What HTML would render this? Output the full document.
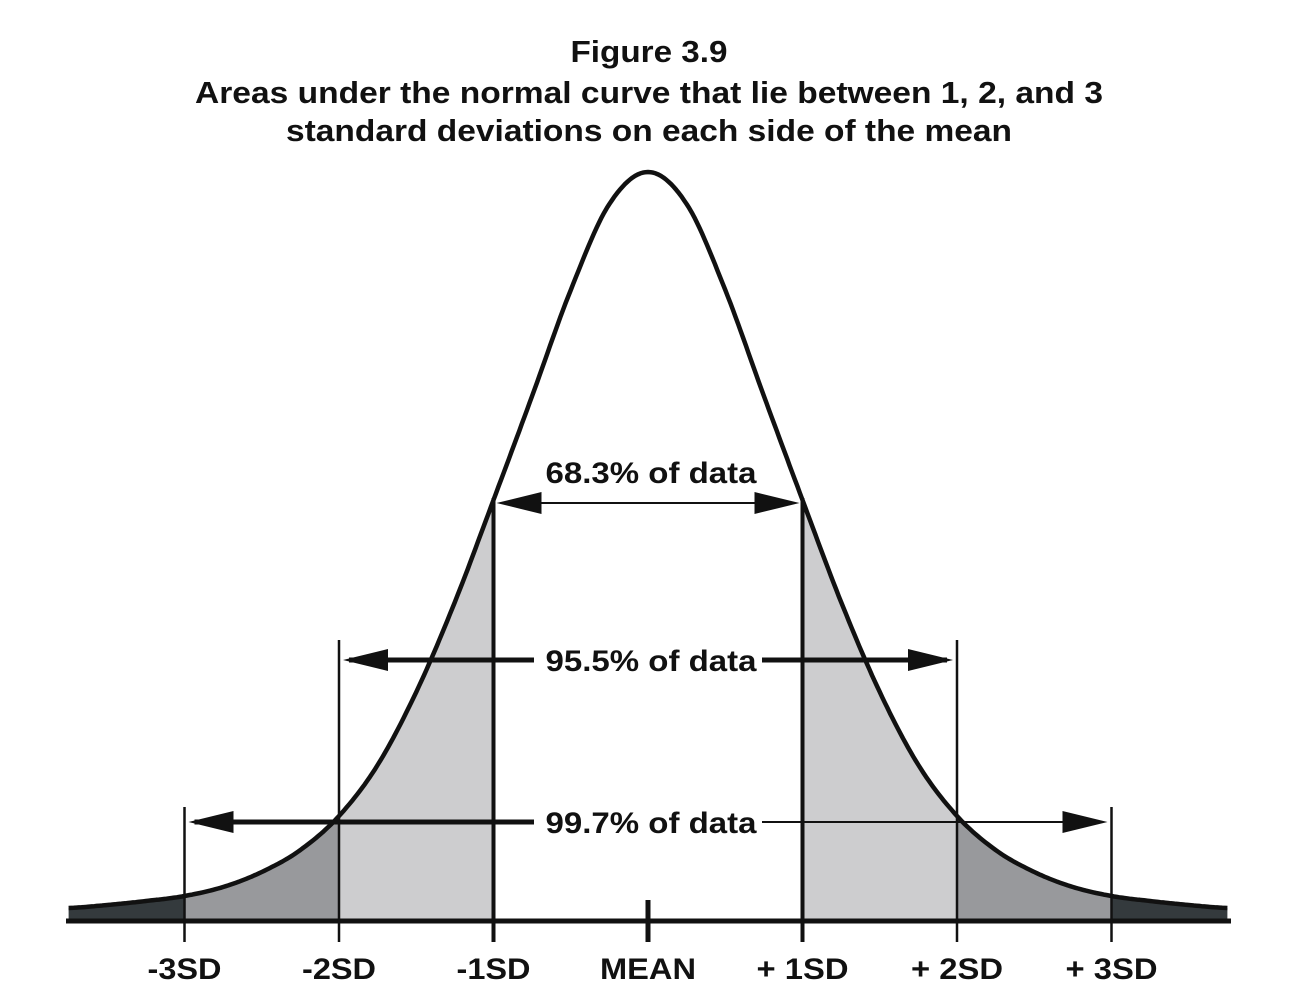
<!DOCTYPE html>
<html><head><meta charset="utf-8"><style>
html,body{margin:0;padding:0;background:#fff;}
svg{display:block;}
text{font-family:"Liberation Sans",Arial,sans-serif;font-weight:bold;fill:#111;}
</style></head><body>
<svg id="chart" width="1294" height="1002" viewBox="0 0 1294 1002" xmlns="http://www.w3.org/2000/svg">
<g>
<text x="649" y="62" text-anchor="middle" font-size="31" textLength="157" lengthAdjust="spacingAndGlyphs">Figure 3.9</text>
<text x="649" y="103" text-anchor="middle" font-size="31" textLength="908" lengthAdjust="spacingAndGlyphs">Areas under the normal curve that lie between 1, 2, and 3</text>
<text x="649" y="141" text-anchor="middle" font-size="31" textLength="726" lengthAdjust="spacingAndGlyphs">standard deviations on each side of the mean</text>
</g>
<g id="fills"></g>
<g id="lines"></g>
<g id="labels"></g>
</svg>
<script>
// Data: curve heights (px above baseline) at z positions
const zs =      [-3.75,-3.5,-3.25,-3,-2.75,-2.5,-2.25,-2,-1.75,-1.5,-1.25,-1,-0.75,-0.5,-0.25,0,0.25,0.5,0.75,1,1.25,1.5,1.75,2,2.25,2.5,2.75,3,3.25,3.5,3.75];
const heights = [12,15,19,24,33,48,70,104,155,228,318,420,524,630,716,748,716,630,524,420,318,228,155,104,70,48,33,24,19,15,12];
const tickZ = [-3,-2,-1,0,1,2,3];
const tickLabels = ["-3SD","-2SD","-1SD","MEAN","+ 1SD","+ 2SD","+ 3SD"];
const bandLabels = ["68.3% of data","95.5% of data","99.7% of data"];
const bandZ = [1,2,3];

const NS="http://www.w3.org/2000/svg";
const X0=648, SD=154.5, BASE=920;
const xs=z=>X0+z*SD;
const hs=h=>BASE-h;
function heightAt(z){
  if(z<=zs[0]) return heights[0];
  for(let i=0;i<zs.length-1;i++){
    if(z>=zs[i]&&z<=zs[i+1]){
      const t=(z-zs[i])/(zs[i+1]-zs[i]);
      const p0=heights[Math.max(i-1,0)],p1=heights[i],p2=heights[i+1],p3=heights[Math.min(i+2,heights.length-1)];
      return 0.5*((2*p1)+(-p0+p2)*t+(2*p0-5*p1+4*p2-p3)*t*t+(-p0+3*p1-3*p2+p3)*t*t*t);
    }
  }
  return heights[heights.length-1];
}
function curvePts(a,b){
  const pts=[];const n=Math.max(2,Math.round((b-a)*60));
  for(let i=0;i<=n;i++){const z=a+(b-a)*i/n;pts.push([xs(z),hs(heightAt(z))]);}
  return pts;
}
function mk(tag,attrs,parent){const e=document.createElementNS(NS,tag);for(const k in attrs)e.setAttribute(k,attrs[k]);parent.appendChild(e);return e;}
const fills=document.getElementById('fills'),lines=document.getElementById('lines'),labels=document.getElementById('labels');
const zMin=zs[0],zMax=zs[zs.length-1];
function region(a,b,color,name){
  const p=curvePts(a,b);
  let d='M'+xs(a)+','+BASE+' '+p.map(q=>'L'+q[0].toFixed(1)+','+q[1].toFixed(1)).join(' ')+' L'+xs(b)+','+BASE+'Z';
  const e=mk('path',{d:d,fill:color},fills);
  
  
}
region(zMin,-bandZ[2],'#343a3d','tail-left-beyond-3sd');
region(-bandZ[2],-bandZ[1],'#98999c','area-left-2-3sd');
region(-bandZ[1],-bandZ[0],'#cdcdcf','area-left-1-2sd');
region(bandZ[0],bandZ[1],'#cdcdcf','area-right-1-2sd');
region(bandZ[1],bandZ[2],'#98999c','area-right-2-3sd');
region(bandZ[2],zMax,'#343a3d','tail-right-beyond-3sd');

const cp=curvePts(zMin,zMax);
const curve=mk('path',{d:'M'+cp.map(q=>q[0].toFixed(1)+','+q[1].toFixed(1)).join(' L'),fill:'none',stroke:'#111',"stroke-width":4.5,"stroke-linejoin":'round'},lines);


const bl=mk('line',{x1:66,y1:BASE+1,x2:1231,y2:BASE+1,stroke:'#111',"stroke-width":5},lines);



const tickW=[74,74,74,96,92,92,92];
tickZ.forEach((z,i)=>{
  const a=Math.abs(z);
  let top, w;
  if(a===0){top=900;w=5;}
  else if(a===1){top=hs(heightAt(z))-2;w=4;}
  else if(a===2){top=640;w=2.5;}
  else {top=807;w=2.5;}
  const l=mk('line',{x1:xs(z),y1:top,x2:xs(z),y2:942,stroke:'#111',"stroke-width":w},lines);
  
  
  const t=mk('text',{x:xs(z),y:979,"text-anchor":'middle',"font-size":30,textLength:tickW[i],lengthAdjust:'spacingAndGlyphs'},labels);
  t.textContent=tickLabels[i];
  
  
});

function arrowHead(xTip,y,dir,parent,name){
  const L=45,H=11;
  const p=mk('polygon',{points:`${xTip},${y} ${xTip-dir*L},${y-H} ${xTip-dir*L},${y+H}`,fill:'#111'},parent);
  
  
}
const y1=503;
let e=mk('line',{x1:xs(-1)+10,y1:y1,x2:xs(1)-10,y2:y1,stroke:'#111',"stroke-width":2},lines);


arrowHead(xs(-1)+3,y1,-1,lines,'arrow-68-left-head');
arrowHead(xs(1)-3,y1,1,lines,'arrow-68-right-head');
e=mk('text',{x:651,y:483,"text-anchor":'middle',"font-size":30,textLength:211,lengthAdjust:'spacingAndGlyphs'},labels);
e.textContent=bandLabels[0];


const y2=660;
e=mk('line',{x1:xs(-2)+10,y1:y2,x2:534,y2:y2,stroke:'#111',"stroke-width":5},lines);


e=mk('line',{x1:762,y1:y2,x2:xs(2)-10,y2:y2,stroke:'#111',"stroke-width":5},lines);


arrowHead(xs(-2)+4,y2,-1,lines,'arrow-95-left-head');
arrowHead(xs(2)-4,y2,1,lines,'arrow-95-right-head');
e=mk('text',{x:651,y:671,"text-anchor":'middle',"font-size":30,textLength:211,lengthAdjust:'spacingAndGlyphs'},labels);
e.textContent=bandLabels[1];


const y3=822;
e=mk('line',{x1:xs(-3)+10,y1:y3,x2:534,y2:y3,stroke:'#111',"stroke-width":5},lines);


e=mk('line',{x1:762,y1:y3,x2:xs(3)-10,y2:y3,stroke:'#111',"stroke-width":2},lines);


arrowHead(xs(-3)+4,y3,-1,lines,'arrow-99-left-head');
arrowHead(xs(3)-4,y3,1,lines,'arrow-99-right-head');
e=mk('text',{x:651,y:833,"text-anchor":'middle',"font-size":30,textLength:211,lengthAdjust:'spacingAndGlyphs'},labels);
e.textContent=bandLabels[2];


</script>
</body></html>
